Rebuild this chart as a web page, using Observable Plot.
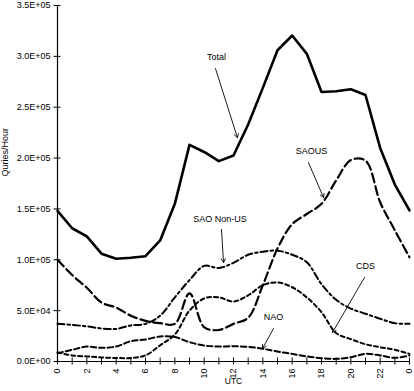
<!DOCTYPE html>
<html><head><meta charset="utf-8">
<script src="https://cdn.jsdelivr.net/npm/d3@7"></script>
<script src="https://cdn.jsdelivr.net/npm/@observablehq/plot@0.6"></script>
<style>body{margin:0;background:#fff}svg{display:block}</style>
</head><body><div id="chart"></div>
<script>
// ---- data ----
const hours = [0,1,2,3,4,5,6,7,8,9,10,11,12,13,14,15,16,17,18,19,20,21,22,23,24];
const total     = [148000,131000,123000,106000,101000,102000,103500,119000,155000,213000,206000,197000,202500,233000,269000,306000,320500,302500,265000,265700,267700,262000,210000,174000,148500];
const saoUS     = [100000,85000,72500,58000,53000,45000,40000,37700,37000,67000,33700,31000,37000,43000,75000,111000,135000,145000,155000,178000,198000,197500,156600,129000,102500];
const saoNonUS  = [37000,36000,34500,32500,32000,35500,37000,45000,63000,80000,94000,92000,97000,105000,108000,109000,105000,97600,76000,60700,52000,47000,42000,37700,37000];
const cds       = [9000,6000,5000,4000,3500,3500,6000,16000,26500,50000,62000,63000,59000,65000,75000,77700,73000,63000,48500,28000,22000,17000,14000,11500,7500];
const nao       = [8000,11500,14700,13400,14700,20000,21600,24600,24000,19000,15700,14700,15000,14400,12500,9800,7500,5000,3300,2600,4200,7500,6000,3600,6000];
const seriesNames = ["Total","SAOUS","SAO Non-US","CDS","NAO"];
const yTicks = [0,50000,100000,150000,200000,250000,300000,350000];
const xLabelTicks = [0,2,4,6,8,10,12,14,16,18,20,22,24];
const xTickLabels = ["0","2","4","6","8","10","12","14","16","18","20","22","0"];
// annotations: label position and arrow (in data units)
const annoLabels = ["Total","SAOUS","SAO Non-US","CDS","NAO"];
const annoX  = [10.84,17.32,11.08,21.0,14.73];
const annoY  = [298900,206400,139600,93400,43300];
const arrX1  = [10.77,17.11,11.18,20.93,14.73];
const arrY1  = [288000,195600,129800,82600,32400];
const arrX2  = [12.27,18.14,11.32,18.75,13.98];
const arrY2  = [220000,161200,97300,28500,12800];

// ---- styles ----
const styles = {
  "Total":      {dash: null,        width: 2.6, curve: "linear"},
  "SAOUS":      {dash: "9,4",       width: 2.2, curve: "catmull-rom"},
  "SAO Non-US": {dash: "7,3,2.5,3", width: 2.0, curve: "catmull-rom"},
  "CDS":        {dash: "4,3",       width: 2.0, curve: "catmull-rom"},
  "NAO":        {dash: "5.5,3",     width: 2.0, curve: "catmull-rom"}
};
const allValues = [total, saoUS, saoNonUS, cds, nao];
const seriesData = seriesNames.map((name, k) => hours.map((h, i) => ({name, hour: h, value: allValues[k][i]})));
const annos = annoLabels.map((t, i) => ({t, x: annoX[i], y: annoY[i], x1: arrX1[i], y1: arrY1[i], x2: arrX2[i], y2: arrY2[i]}));

const fmt = d => {
  const [m, e] = d.toExponential(1).split("e");
  const n = Math.abs(+e);
  return m + "E" + (e[0] === "-" ? "-" : "+") + String(n).padStart(2, "0");
};

const lineMarks = seriesData.map((rows, k) => {
  const s = styles[seriesNames[k]];
  return Plot.line(rows, {x: "hour", y: "value", stroke: "black", strokeWidth: s.width,
    strokeDasharray: s.dash, curve: s.curve, strokeLinejoin: "round"});
});

const chart = Plot.plot({
  width: 414, height: 391,
  marginLeft: 57, marginRight: 5, marginTop: 5, marginBottom: 30,
  style: {fontFamily: "'Liberation Sans', Arial, sans-serif", fontSize: "9px", background: "white", color: "black"},
  x: {domain: [0, 24]},
  y: {domain: [0, 350000]},
  marks: [
    Plot.axisY({ticks: yTicks, tickSize: 0, tickPadding: 7, tickFormat: fmt, label: null, style: {letterSpacing: "0.4px"}}),
    Plot.axisX({ticks: xLabelTicks, tickSize: 0, tickPadding: 7, tickRotate: -90,
      tickFormat: d => xTickLabels[xLabelTicks.indexOf(d)], label: null}),
    Plot.ruleY(yTicks, {x1: 0, x2: 0, insetLeft: -3.5, insetRight: -3.5, stroke: "black"}),
    Plot.ruleX(hours, {y1: 0, y2: 0, insetTop: -3.5, insetBottom: -3.5, stroke: "black"}),
    Plot.ruleX([0], {stroke: "black", strokeWidth: 1.2}),
    Plot.ruleY([0], {stroke: "black", strokeWidth: 1.2}),
    ...lineMarks,
    Plot.arrow(annos, {x1: "x1", y1: "y1", x2: "x2", y2: "y2", stroke: "black", strokeWidth: 0.9, headLength: 7, bend: 0}),
    Plot.text(annos, {x: "x", y: "y", text: "t", fontSize: 9, fill: "black"}),
    Plot.text(["Quries/Hour"], {frameAnchor: "left", rotate: -90, dx: -52, dy: -7, fontSize: 9, fill: "black", style: {letterSpacing: "2px"}}),
    Plot.text(["UTC"], {frameAnchor: "bottom", dy: 22, fontSize: 8.5, fill: "black"})
  ]
});
document.getElementById("chart").appendChild(chart);
</script>
</body></html>
